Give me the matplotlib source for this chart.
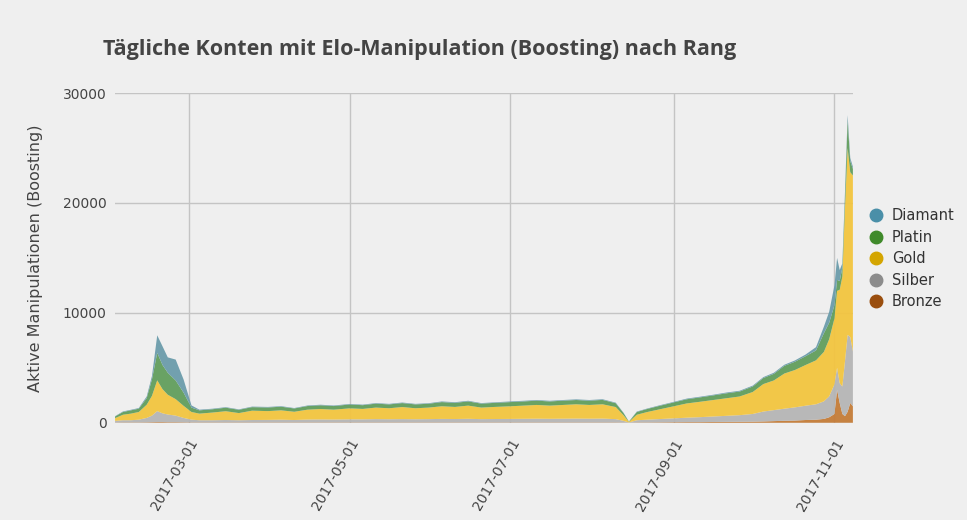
import matplotlib
matplotlib.use("Agg")
import matplotlib.pyplot as plt
from matplotlib.lines import Line2D
import pandas as pd

dates = ["2017-02-01","2017-02-04","2017-02-07","2017-02-10","2017-02-13","2017-02-15","2017-02-17","2017-02-19",
"2017-02-21","2017-02-24","2017-02-27","2017-03-02","2017-03-05","2017-03-10","2017-03-15","2017-03-20","2017-03-25",
"2017-03-31","2017-04-05","2017-04-10","2017-04-15","2017-04-20","2017-04-25","2017-05-01","2017-05-06","2017-05-11",
"2017-05-16","2017-05-21","2017-05-26","2017-05-31","2017-06-05","2017-06-10","2017-06-15","2017-06-20","2017-06-25",
"2017-07-01","2017-07-06","2017-07-11","2017-07-16","2017-07-21","2017-07-26","2017-07-31","2017-08-05","2017-08-10",
"2017-08-13","2017-08-15","2017-08-18","2017-08-22","2017-08-27","2017-09-01","2017-09-06","2017-09-11","2017-09-16",
"2017-09-21","2017-09-26","2017-10-01","2017-10-05","2017-10-09","2017-10-13","2017-10-17","2017-10-21","2017-10-25",
"2017-10-28","2017-10-30","2017-11-01","2017-11-02","2017-11-03","2017-11-04","2017-11-05","2017-11-06","2017-11-07","2017-11-08"]

bronze = [20,30,30,30,40,50,60,60,50,50,40,30,30,30,30,30,30,30,30,30,30,30,30,30,30,30,30,30,30,30,30,30,30,30,30,
          30,30,30,30,30,30,30,30,30,20,5,30,30,40,50,60,60,70,80,90,100,120,150,180,200,250,280,350,500,800,3000,1800,800,600,1000,1800,1500]
silber = [150,200,200,250,400,600,1000,800,700,600,400,250,200,200,220,200,220,230,250,220,260,270,260,280,280,300,290,300,290,300,
          320,310,330,300,310,320,330,340,330,340,350,340,350,300,150,20,200,250,300,350,400,450,500,550,600,700,900,1000,1100,1200,
          1300,1400,1600,1900,2700,2000,1800,2500,5000,7000,6000,5000]
gold = [250,500,600,700,1200,1800,2800,2200,1800,1500,1100,700,600,700,800,650,850,800,850,750,900,950,900,1000,950,1050,1000,
        1100,1000,1050,1150,1100,1200,1050,1100,1150,1200,1250,1200,1250,1300,1250,1300,1100,500,50,500,700,900,1100,1300,1400,
        1500,1600,1700,2000,2500,2700,3200,3400,3700,4000,4500,5200,6000,7000,8500,10000,14000,17000,15000,16000]
platin = [150,250,300,300,600,1500,2500,2200,2000,1700,1200,400,300,300,320,300,320,330,330,300,330,340,330,350,340,360,350,360,
          350,350,380,370,380,360,370,380,380,390,380,390,390,390,400,350,200,30,250,280,320,350,380,400,420,450,450,500,550,600,
          700,750,800,900,1700,1500,1200,1000,800,800,1000,2500,1000,600]
diamant = [30,50,50,60,150,300,1600,1700,1400,1900,1200,200,60,50,50,40,50,50,50,40,50,50,50,50,50,50,50,50,50,50,60,60,60,50,
           50,60,60,60,60,60,60,60,60,50,30,5,40,40,50,50,60,60,60,70,70,80,80,100,100,120,150,300,600,1000,1800,2000,1000,400,
           400,500,300,200]

labels = ["Bronze", "Silber", "Gold", "Platin", "Diamant"]
fill_cols = ["#c47c38", "#b5b5b5", "#f3c53f", "#629e5c", "#6b9cab"]
dot_cols = ["#9a4e0e", "#8c8c8c", "#d4a500", "#3f8a2a", "#4a8fa8"]

x = pd.to_datetime(dates)
bg = "#efefef"
fig = plt.figure(figsize=(9.67, 5.2), dpi=100, facecolor=bg)
ax = fig.add_axes([0.119, 0.187, 0.763, 0.634], facecolor=bg)
ax.stackplot(x, bronze, silber, gold, platin, diamant, colors=fill_cols, alpha=0.95, linewidth=0)

ax.set_xlim(pd.Timestamp("2017-02-01"), pd.Timestamp("2017-11-08"))
ax.set_ylim(0, 30000)
ax.set_yticks([0, 10000, 20000, 30000])
ticks = pd.to_datetime(["2017-03-01","2017-05-01","2017-07-01","2017-09-01","2017-11-01"])
ax.set_xticks(ticks)
ax.set_xticklabels([t.strftime("%Y-%m-%d") for t in ticks], rotation=60, ha="right", rotation_mode="anchor")
ax.grid(True, color="#c4c4c4", linewidth=1)
ax.set_axisbelow(True)
for s in ax.spines.values():
    s.set_visible(False)
ax.tick_params(length=0, colors="#444444", labelsize=10, pad=6)
ax.tick_params(axis="x", pad=10)
ax.set_ylabel("Aktive Manipulationen (Boosting)", fontsize=11.5, color="#444444", labelpad=14)
fig.text(0.107, 0.895, "Tägliche Konten mit Elo-Manipulation (Boosting) nach Rang",
         fontsize=15.5, fontweight="bold", color="#444444", family="Open Sans")

handles = [Line2D([], [], marker="o", linestyle="", markersize=9, color=c) for c in dot_cols[::-1]]
leg = fig.legend(handles, labels[::-1], loc="upper left", bbox_to_anchor=(0.877, 0.625),
                 frameon=False, fontsize=10.5, handletextpad=0.1, labelspacing=0.45)
for t in leg.get_texts():
    t.set_color("#333333")
fig.savefig("out.png", dpi=100, facecolor=bg)
